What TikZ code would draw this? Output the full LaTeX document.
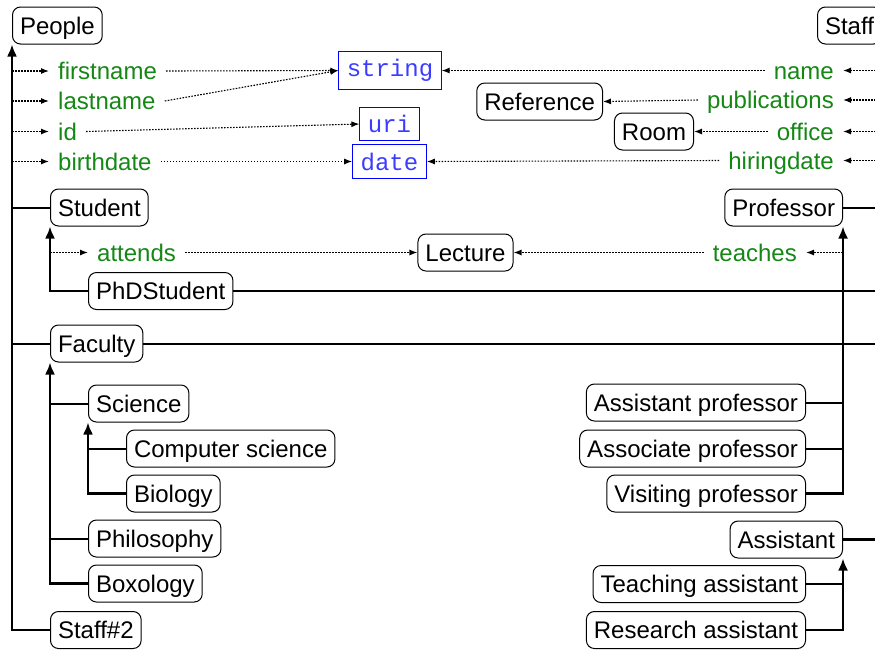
\documentclass[tikz,border=0pt]{standalone}
\usepackage{fontspec}
\setmainfont{Liberation Sans}
\setmonofont{Liberation Mono}
\usetikzlibrary{arrows.meta,calc}
\definecolor{attrgreen}{RGB}{20,135,20}
\definecolor{typeblue}{RGB}{60,60,255}
\tikzset{
  cls/.style={draw, line width=1pt, rounded corners=8pt,
    font=\fontsize{24}{28}\selectfont, text height=17.2pt, text depth=0pt,
    inner xsep=7.5pt, inner ysep=9.9pt},
  attr/.style={text=attrgreen, font=\fontsize{24}{28}\selectfont,
    text height=17.2pt, text depth=0pt, inner xsep=9pt, inner ysep=2pt},
  dtype/.style={draw=blue, line width=1pt, text=typeblue,
    font=\ttfamily\fontsize{24}{28}\selectfont, inner sep=8pt},
  isa/.style={line width=2pt},
  isaarrow/.style={line width=2.2pt, -{Latex[length=12pt,width=10pt]}},
  rel/.style={line width=1.1pt, dash pattern=on 1.6pt off 1.4pt,
    -{Latex[length=8pt,width=6pt]}},
}
\begin{document}
\begin{tikzpicture}[x=1pt,y=-1pt]
\useasboundingbox (0,0) rectangle (875,649);
\begin{scope}
\clip (0,0) rectangle (875,649);

% classes
\node[cls, anchor=west] (people) at (12,25.5) {People};
\node[cls, anchor=west] (staff) at (817,25.5) {Staff};
\node[cls, anchor=east] (reference) at (603,101.5) {Reference};
\node[cls, anchor=east] (room) at (694,131.5) {Room};
\node[cls, anchor=west] (student) at (50,207.5) {Student};
\node[cls, anchor=east] (professor) at (843,207.5) {Professor};
\node[cls] (lecture) at (465.5,252.5) {Lecture};
\node[cls, anchor=west] (phd) at (88,291) {PhDStudent};
\node[cls, anchor=west] (faculty) at (50,343.5) {Faculty};
\node[cls, anchor=west] (science) at (88,403.5) {Science};
\node[cls, anchor=west] (compsci) at (126,448.5) {Computer science};
\node[cls, anchor=west] (biology) at (126,493.5) {Biology};
\node[cls, anchor=west] (philosophy) at (88,538.5) {Philosophy};
\node[cls, anchor=west] (boxology) at (88,583.5) {Boxology};
\node[cls, anchor=west] (staff2) at (50,630) {Staff\#2};
\node[cls, anchor=east] (asstprof) at (806,402.5) {Assistant professor};
\node[cls, anchor=east] (assocprof) at (806,448.5) {Associate professor};
\node[cls, anchor=east] (visiting) at (806,493.5) {Visiting professor};
\node[cls, anchor=east] (assistant) at (843,539.5) {Assistant};
\node[cls, anchor=east] (teaching) at (806,584) {Teaching assistant};
\node[cls, anchor=east] (research) at (806,630) {Research assistant};

% datatypes
\node[dtype] (string) at (390,70.5) {string};
\node[dtype] (uri) at (389.5,124) {uri};
\node[dtype] (date) at (389.5,161.5) {date};

% attributes
\node[attr, anchor=west] (firstname) at (49,71) {firstname};
\node[attr, anchor=west] (lastname) at (49,101) {lastname};
\node[attr, anchor=west] (id) at (49,131.5) {id};
\node[attr, anchor=west] (birthdate) at (49,161.5) {birthdate};
\node[attr, anchor=east] (name) at (843,70.5) {name};
\node[attr, anchor=east] (publications) at (843,100) {publications};
\node[attr, anchor=east] (office) at (843,131.5) {office};
\node[attr, anchor=east] (hiringdate) at (843,160.5) {hiringdate};
\node[attr, anchor=west] (attends) at (88,252.5) {attends};
\node[attr, anchor=east] (teaches) at (806,252.5) {teaches};

\coordinate (pl) at (people.south west);
\coordinate (sr) at (staff.south east);

% People hierarchy
\draw[isaarrow] (staff2.west) -| (pl);
\draw[isa] (student.west) -- (student.west -| pl);
\draw[isa] (faculty.west) -- (faculty.west -| pl);
\foreach \a in {firstname,lastname,id,birthdate}
  \draw[rel] (\a.west -| pl) -- (\a.west);

\draw[isaarrow] (phd.west) -| (student.south west);
\draw[rel] (attends.west -| student.west) -- (attends.west);

\draw[isaarrow] (boxology.west) -| (faculty.south west);
\draw[isa] (science.west) -- (science.west -| faculty.west);
\draw[isa] (philosophy.west) -- (philosophy.west -| faculty.west);

\draw[isaarrow] (biology.west) -| (science.south west);
\draw[isa] (compsci.west) -- (compsci.west -| science.west);

% Staff hierarchy
\draw[isaarrow] (assistant.east) -| (sr);
\draw[isa] (professor.east) -- (professor.east -| sr);
\draw[isa] (phd.east) -- (phd.east -| sr);
\draw[isa] (faculty.east) -- (faculty.east -| sr);
\foreach \a in {name,publications,office,hiringdate}
  \draw[rel] (\a.east -| sr) -- (\a.east);

\draw[isaarrow] (visiting.east) -| (professor.south east);
\draw[isa] (asstprof.east) -- (asstprof.east -| professor.east);
\draw[isa] (assocprof.east) -- (assocprof.east -| professor.east);
\draw[rel] (teaches.east -| professor.east) -- (teaches.east);

\draw[isaarrow] (research.east) -| (assistant.south east);
\draw[isa] (teaching.east) -- (teaching.east -| assistant.east);

% attribute ranges
\draw[rel] (firstname.east) -- (string.west);
\draw[rel] (lastname.east) -- (string.west);
\draw[rel] (id.east) -- (uri.west);
\draw[rel] (birthdate.east) -- (date.west);
\draw[rel] (name.west) -- (string.east);
\draw[rel] (publications.west) -- (reference.east);
\draw[rel] (office.west) -- (room.east);
\draw[rel] (hiringdate.west) -- (date.east);
\draw[rel] (attends.east) -- (lecture.west);
\draw[rel] (teaches.west) -- (lecture.east);
\end{scope}
\end{tikzpicture}
\end{document}
